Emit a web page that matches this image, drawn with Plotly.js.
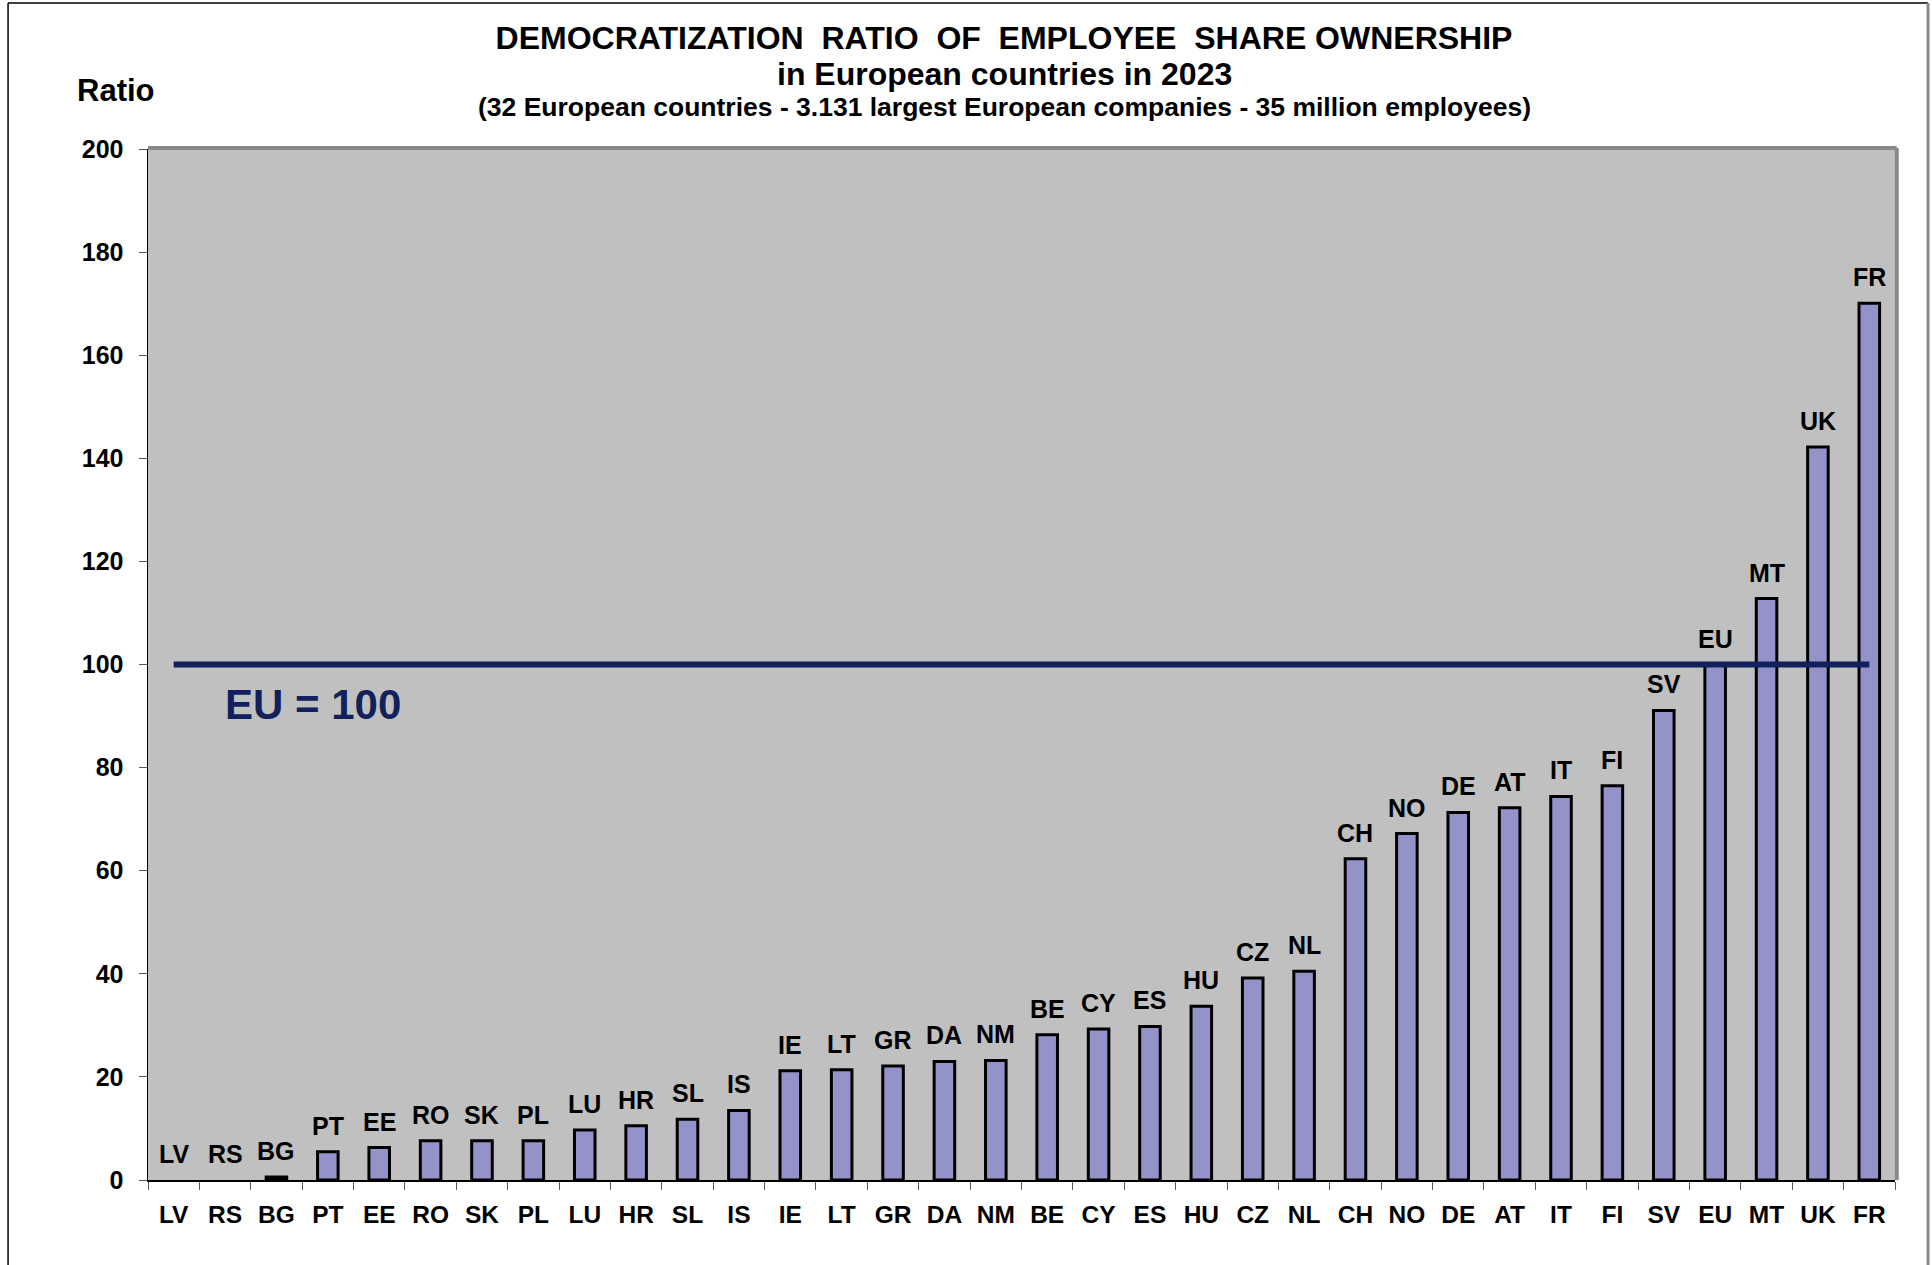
<!DOCTYPE html>
<html>
<head>
<meta charset="utf-8">
<script src="https://cdn.plot.ly/plotly-3.0.1.min.js"></script>
<style>
  html, body { margin: 0; padding: 0; background: #ffffff; }
  #chart { width: 1932px; height: 1265px; }
</style>
</head>
<body>
<div id="chart"></div>
<script>
// ---- data ----
const countries = ["LV","RS","BG","PT","EE","RO","SK","PL","LU","HR","SL","IS","IE","LT","GR","DA","NM","BE","CY","ES","HU","CZ","NL","CH","NO","DE","AT","IT","FI","SV","EU","MT","UK","FR"];
const ratios    = [0, 0, 0.6, 5.5, 6.3, 7.6, 7.6, 7.6, 9.7, 10.5, 11.8, 13.5, 21.2, 21.4, 22.1, 23.0, 23.2, 28.2, 29.3, 29.8, 33.7, 39.2, 40.5, 62.3, 67.2, 71.3, 72.2, 74.4, 76.5, 91.1, 100, 112.8, 142.2, 170.1];
const euLevel   = 100;
const yTicks    = [0, 20, 40, 60, 80, 100, 120, 140, 160, 180, 200];

const titleLine1 = "DEMOCRATIZATION&nbsp; RATIO&nbsp; OF&nbsp; EMPLOYEE&nbsp; SHARE OWNERSHIP";
const titleLine2 = "in European countries in 2023";
const titleLine3 = "(32 European countries - 3.131 largest European companies - 35 million employees)";
const yLabel     = "Ratio";
const euLabel    = "EU = 100";

// ---- styling ----
const FONT = "Liberation Sans, Arial, sans-serif";
const NAVY = "#13205e";

const barTrace = {
  type: "bar",
  x: countries,
  y: ratios,
  marker: {
    color: "#9393c9",
    line: { color: "#000000", width: ratios.map(v => (v > 0 ? 3 : 0)) }
  },
  hoverinfo: "x+y",
  cliponaxis: false
};

const euTrace = {
  type: "scatter",
  mode: "lines",
  x: [countries[0], countries[countries.length - 1]],
  y: [euLevel, euLevel],
  line: { color: NAVY, width: 6 },
  hoverinfo: "skip",
  cliponaxis: false
};

const barLabels = countries.map((c, i) => ({
  x: c, y: ratios[i], xref: "x", yref: "y",
  text: c, showarrow: false,
  yanchor: "bottom", yshift: 10,
  font: { family: FONT, size: 25, color: "#000", weight: "bold" }
}));

// paper coordinates (plot area 148..1895 x 150..1180)
const annotations = barLabels.concat([
  { xref: "paper", yref: "paper", x: 0.49, y: 1.0728, xanchor: "center", yanchor: "middle",
    text: titleLine2, showarrow: false,
    font: { family: FONT, size: 32, color: "#000", weight: "bold" } },
  { xref: "paper", yref: "paper", x: 0.49, y: 1.0408, xanchor: "center", yanchor: "middle",
    text: titleLine3, showarrow: false,
    font: { family: FONT, size: 26.5, color: "#000", weight: "bold" } },
  { xref: "paper", yref: "paper", x: -0.0418, y: 1.0563, xanchor: "left", yanchor: "middle",
    text: yLabel, showarrow: false,
    font: { family: FONT, size: 31, color: "#000", weight: "bold" } },
  { xref: "paper", yref: "paper", x: 0.0429, y: 0.4612, xanchor: "left", yanchor: "middle",
    text: euLabel, showarrow: false,
    font: { family: FONT, size: 42, color: NAVY, weight: "bold" } }
]);

const shapes = [
  { type: "line", xref: "paper", yref: "paper", x0: 0, x1: 1.001, y0: 1.001, y1: 1.001,
    line: { color: "#8a8a8a", width: 4 } },
  { type: "line", xref: "paper", yref: "paper", x0: 1.001, x1: 1.001, y0: 0, y1: 1.001,
    line: { color: "#8a8a8a", width: 4 } },
  { type: "line", xref: "paper", yref: "paper", x0: -0.0801, x1: -0.0801, y0: -0.09, y1: 1.1417,
    line: { color: "#000000", width: 1.5 } },
  { type: "line", xref: "paper", yref: "paper", x0: -0.0801, x1: 1.0189, y0: 1.1417, y1: 1.1417,
    line: { color: "#000000", width: 1.5 } },
  { type: "line", xref: "paper", yref: "paper", x0: 1.0189, x1: 1.0189, y0: -0.09, y1: 1.1417,
    line: { color: "#8a8a8a", width: 3 } }
];

const layout = {
  width: 1932,
  height: 1265,
  margin: { l: 148, r: 37, t: 149, b: 85, pad: 0 },
  paper_bgcolor: "#ffffff",
  plot_bgcolor: "#c0c0c0",
  showlegend: false,
  bargap: 0.6,
  title: {
    text: titleLine1,
    x: 1004 / 1932, xanchor: "center", xref: "container",
    y: 1 - 38 / 1265, yanchor: "middle", yref: "container",
    font: { family: FONT, size: 32, color: "#000", weight: "bold" }
  },
  xaxis: {
    type: "category",
    categoryorder: "array",
    categoryarray: countries,
    tickson: "boundaries",
    ticks: "outside",
    ticklen: 8,
    tickwidth: 1,
    tickcolor: "#555555",
    showline: true,
    linecolor: "#000000",
    linewidth: 1.5,
    showgrid: false,
    zeroline: false,
    ticklabelstandoff: 12,
    tickfont: { family: FONT, size: 24.5, color: "#000", weight: "bold" }
  },
  yaxis: {
    range: [0, 200],
    tickvals: yTicks,
    ticks: "outside",
    ticklen: 8,
    tickwidth: 1,
    tickcolor: "#555555",
    showline: true,
    linecolor: "#000000",
    linewidth: 1.5,
    showgrid: false,
    zeroline: false,
    ticklabelstandoff: 10,
    tickfont: { family: FONT, size: 25, color: "#000", weight: "bold" }
  },
  annotations: annotations,
  shapes: shapes
};

Plotly.newPlot("chart", [barTrace, euTrace], layout, { displayModeBar: false, staticPlot: true });
</script>
</body>
</html>
